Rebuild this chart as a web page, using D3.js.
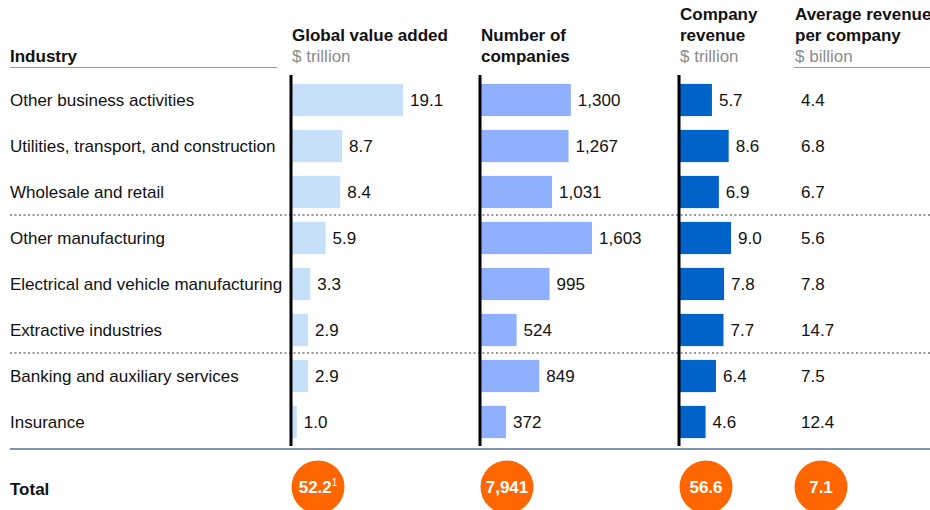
<!DOCTYPE html>
<html>
<head>
<meta charset="utf-8">
<script src="https://cdn.jsdelivr.net/npm/d3@7/dist/d3.min.js"></script>
<style>
  html, body { margin: 0; padding: 0; background: #fff; }
  svg { display: block; font-family: "Liberation Sans", Arial, sans-serif; }
</style>
</head>
<body>
<svg id="chart" width="930" height="510"></svg>
<script>
// Industry rows
const industries = [
  "Other business activities",
  "Utilities, transport, and construction",
  "Wholesale and retail",
  "Other manufacturing",
  "Electrical and vehicle manufacturing",
  "Extractive industries",
  "Banking and auxiliary services",
  "Insurance"
];
// Global value added, $ trillion
const valueAdded = [19.1, 8.7, 8.4, 5.9, 3.3, 2.9, 2.9, 1.0];
// Number of companies
const companies = [1300, 1267, 1031, 1603, 995, 524, 849, 372];
// Company revenue, $ trillion
const revenue = [5.7, 8.6, 6.9, 9.0, 7.8, 7.7, 6.4, 4.6];
// Average revenue per company, $ billion
const avgRevenue = [4.4, 6.8, 6.7, 5.6, 7.8, 14.7, 7.5, 12.4];
// Totals row
const totalLabels = ["52.2", "7,941", "56.6", "7.1"];
const totalNotes = ["1", "", "", ""];
// Groups are separated by dotted rules after these row indexes
const groupBreaks = [2, 5];

const svg = d3.select("#chart");
const W = 930;
const FS = 17;

// Row band scale
const y = d3.scaleBand()
  .domain(d3.range(industries.length))
  .range([77, 445])
  .paddingInner(0.3)
  .paddingOuter(0.15);

const rowMid = i => y(i) + y.bandwidth() / 2;

// Column layouts
const cols = [
  { x: 291, title: ["Global value added"], unit: "$ trillion", data: valueAdded,
    scale: d3.scaleLinear().domain([0, 19.1]).range([0, 112]), color: "#c6e0fa",
    fmt: d3.format(".1f") },
  { x: 480, title: ["Number of", "companies"], unit: null, data: companies,
    scale: d3.scaleLinear().domain([0, 1603]).range([0, 112]), color: "#8fb0ff",
    fmt: d3.format(",") },
  { x: 679, title: ["Company", "revenue"], unit: "$ trillion", data: revenue,
    scale: d3.scaleLinear().domain([0, 9.0]).range([0, 52]), color: "#0063c9",
    fmt: d3.format(".1f") },
  { x: 794, title: ["Average revenue", "per company"], unit: "$ billion", data: avgRevenue,
    scale: null, color: null, fmt: d3.format(".1f") }
];

// Header text: lines stack upward from the unit line at baseline 62
const headerBase = 62, lineH = 21;
svg.append("text")
  .attr("x", 10).attr("y", headerBase)
  .attr("font-size", FS).attr("font-weight", "bold").attr("fill", "#111")
  .text("Industry");
svg.append("line")
  .attr("x1", 10).attr("x2", 277).attr("y1", 67.5).attr("y2", 67.5)
  .attr("stroke", "#999").attr("stroke-width", 1);

cols.forEach(c => {
  const lines = c.title.slice();
  const nAbove = c.unit ? 1 : 0;
  lines.forEach((t, k) => {
    const idxFromBottom = lines.length - 1 - k + nAbove;
    svg.append("text")
      .attr("x", c.x + 1).attr("y", headerBase - idxFromBottom * lineH)
      .attr("font-size", FS).attr("font-weight", "bold").attr("fill", "#111")
      .text(t);
  });
  if (c.unit) {
    svg.append("text")
      .attr("x", c.x + 1).attr("y", headerBase)
      .attr("font-size", FS).attr("fill", "#8c8c8c")
      .text(c.unit);
  }
});
svg.append("line")
  .attr("x1", 794).attr("x2", W).attr("y1", 67.5).attr("y2", 67.5)
  .attr("stroke", "#999").attr("stroke-width", 1);

// Industry labels
svg.append("g").selectAll("text")
  .data(industries)
  .join("text")
  .attr("x", 10)
  .attr("y", (d, i) => rowMid(i) + 6)
  .attr("font-size", FS).attr("fill", "#111")
  .text(d => d);

// Dotted group separators
groupBreaks.forEach(b => {
  const yy = (rowMid(b) + rowMid(b + 1)) / 2;
  svg.append("line")
    .attr("x1", 10).attr("x2", W).attr("y1", yy).attr("y2", yy)
    .attr("stroke", "#777").attr("stroke-width", 1.5)
    .attr("stroke-dasharray", "2,2.5");
});

// Bars and value labels
cols.forEach(c => {
  const g = svg.append("g");
  if (c.scale) {
    g.selectAll("rect")
      .data(c.data)
      .join("rect")
      .attr("x", c.x)
      .attr("y", (d, i) => y(i))
      .attr("width", d => c.scale(d))
      .attr("height", y.bandwidth())
      .attr("fill", c.color);
    g.selectAll("text")
      .data(c.data)
      .join("text")
      .attr("x", d => c.x + c.scale(d) + 7)
      .attr("y", (d, i) => rowMid(i) + 6)
      .attr("font-size", FS).attr("fill", "#111")
      .text(d => c.fmt(d));
    // Column baseline
    g.append("line")
      .attr("x1", c.x).attr("x2", c.x).attr("y1", 75).attr("y2", 446)
      .attr("stroke", "#000").attr("stroke-width", 3);
  } else {
    g.selectAll("text")
      .data(c.data)
      .join("text")
      .attr("x", c.x + 7)
      .attr("y", (d, i) => rowMid(i) + 6)
      .attr("font-size", FS).attr("fill", "#111")
      .text(d => c.fmt(d));
  }
});

// Bottom rule above totals
svg.append("line")
  .attr("x1", 10).attr("x2", W).attr("y1", 449).attr("y2", 449)
  .attr("stroke", "#7f93b3").attr("stroke-width", 2);

// Totals row
svg.append("text")
  .attr("x", 10).attr("y", 495)
  .attr("font-size", FS).attr("font-weight", "bold").attr("fill", "#111")
  .text("Total");

const totals = svg.append("g").selectAll("g")
  .data(cols.map((c, i) => ({ x: c.x + 27, label: totalLabels[i], note: totalNotes[i] })))
  .join("g")
  .attr("transform", d => `translate(${d.x},487)`);
totals.append("circle").attr("r", 26.5).attr("fill", "#ff6600");
const tt = totals.append("text")
  .attr("text-anchor", "middle")
  .attr("y", 6)
  .attr("font-size", FS).attr("font-weight", "bold").attr("fill", "#fff");
tt.append("tspan").text(d => d.label);
tt.filter(d => d.note).append("tspan")
  .attr("font-size", 10).attr("font-weight", "normal")
  .attr("dy", -7)
  .text(d => d.note);
</script>
</body>
</html>
